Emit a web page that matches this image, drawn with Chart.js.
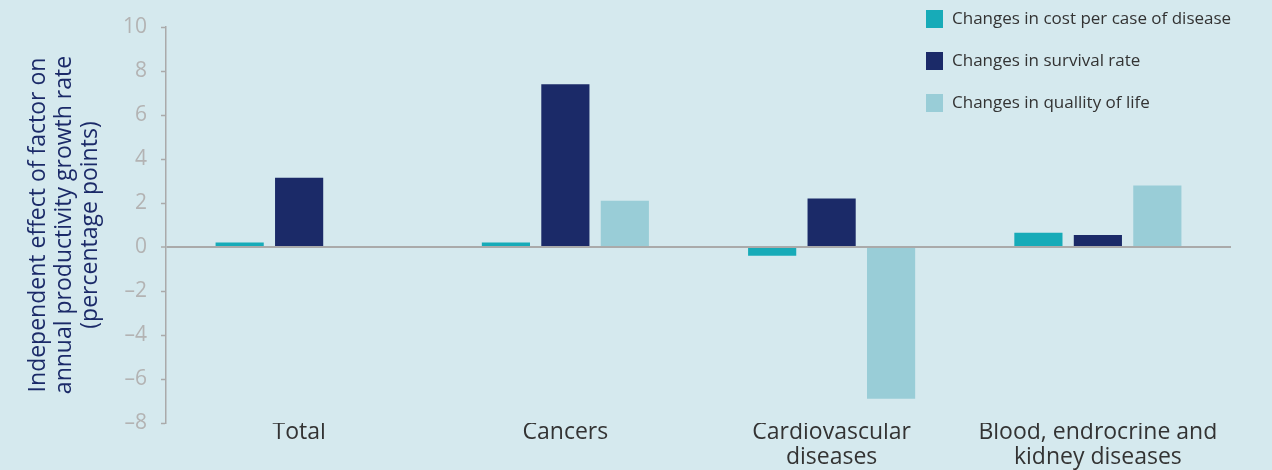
<!DOCTYPE html>
<html>
<head>
<meta charset="utf-8">
<script src="https://cdn.jsdelivr.net/npm/chart.js@4"></script>
<style>
  html, body { margin: 0; padding: 0; background: #d5e9ee; }
  #wrap { width: 1272px; height: 470px; position: relative; }
</style>
</head>
<body>
<div id="wrap"><canvas id="c"></canvas></div>
<script>
const categories = [["Total"], ["Cancers"], ["Cardiovascular", "diseases"], ["Blood, endrocrine and", "kidney diseases"]];
const seriesNames = ["Changes in cost per case of disease", "Changes in survival rate", "Changes in quallity of life"];
const costPerCase = [0.2, 0.2, -0.4, 0.65];
const survivalRate = [3.15, 7.4, 2.2, 0.55];
const qualityOfLife = [null, 2.1, -6.9, 2.8];
const yTicks = [10, 8, 6, 4, 2, 0, -2, -4, -6, -8];
const yTitle = ["Independent effect of factor on", "annual productivity growth rate", "(percentage points)"];

const colors = ["#17abb8", "#1b2a68", "#99cdd7"];
const FONT = "'Open Sans', 'DejaVu Sans', sans-serif";

const legendPlugin = {
  id: 'customLegend',
  afterDraw(chart) {
    const ctx = chart.ctx;
    ctx.save();
    ctx.font = "17px " + FONT;
    ctx.textBaseline = 'middle';
    ctx.textAlign = 'left';
    chart.data.datasets.forEach((ds, i) => {
      const y = 19 + i * 42;
      ctx.fillStyle = ds.backgroundColor;
      ctx.fillRect(926, y - 9, 17, 18);
      ctx.fillStyle = '#333333';
      ctx.fillText(ds.label, 952, y);
    });
    ctx.restore();
  }
};

new Chart(document.getElementById('c'), {
  type: 'bar',
  data: {
    labels: categories,
    datasets: [
      { label: seriesNames[0], data: costPerCase, backgroundColor: colors[0] },
      { label: seriesNames[1], data: survivalRate, backgroundColor: colors[1] },
      { label: seriesNames[2], data: qualityOfLife, backgroundColor: colors[2] }
    ]
  },
  options: {
    responsive: true,
    maintainAspectRatio: false,
    animation: false,
    categoryPercentage: 0.67,
    barPercentage: 0.81,
    layout: { padding: { top: 27, right: 41, left: 0, bottom: 0 } },
    plugins: {
      legend: { display: false },
      tooltip: { enabled: false }
    },
    scales: {
      x: {
        grid: { display: false, drawTicks: false },
        border: { display: false },
        ticks: { color: '#333333', font: { family: FONT, size: 23, lineHeight: 1.1 }, padding: -3, maxRotation: 0 },
        afterFit(scale) { scale.height = 47; }
      },
      y: {
        min: -8,
        max: 10,
        afterBuildTicks(scale) { scale.ticks = yTicks.map(v => ({ value: v })); },
        ticks: {
          color: '#b3b3b3',
          font: { family: FONT, size: 21 },
          padding: 14,
          callback: (v) => String(v).replace('-', '\u2013')
        },
        grid: {
          color: (c) => (c.tick && c.tick.value === 0) ? '#aaaaaa' : 'rgba(0,0,0,0)',
          lineWidth: (c) => (c.tick && c.tick.value === 0) ? 2 : 1,
          drawTicks: true,
          tickLength: 5,
          tickColor: '#aaaaaa',
          tickWidth: 1.5
        },
        border: { display: true, color: '#aaaaaa', width: 1.5 },
        title: {
          display: true,
          text: yTitle,
          color: '#1b2a68',
          font: { family: FONT, size: 23, lineHeight: 1.13 },
          padding: { top: 25, bottom: 0 }
        },
        afterFit(scale) { scale.width = 166; }
      }
    }
  },
  plugins: [legendPlugin]
});
</script>
</body>
</html>
